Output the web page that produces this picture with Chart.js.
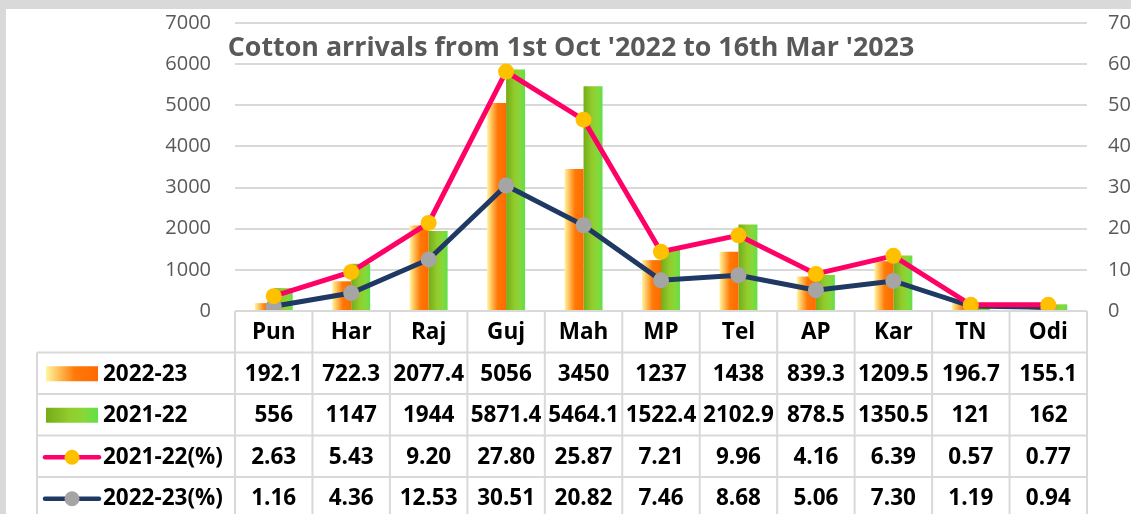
<!DOCTYPE html>
<html>
<head>
<meta charset="utf-8">
<script src="https://cdn.jsdelivr.net/npm/chart.js@4.4.1/dist/chart.umd.min.js"></script>
<style>
  html, body { margin: 0; padding: 0; overflow: hidden; background: #d9d9d9; width: 1131px; height: 514px; }
  #wrap { position: absolute; left: 6px; top: 9px; width: 1160px; height: 505px; background: #fff; }
</style>
</head>
<body>
<div id="wrap"><canvas id="grafico"></canvas></div>
<script>
// --- DADOS ---
const states = ['Pun', 'Har', 'Raj', 'Guj', 'Mah', 'MP', 'Tel', 'AP', 'Kar', 'TN', 'Odi'];
const arrivals2223 = [192.1, 722.3, 2077.4, 5056, 3450, 1237, 1438, 839.3, 1209.5, 196.7, 155.1];
const arrivals2122 = [556, 1147, 1944, 5871.4, 5464.1, 1522.4, 2102.9, 878.5, 1350.5, 121, 162];
// shares printed in the table
const share2122Text = ['2.63', '5.43', '9.20', '27.80', '25.87', '7.21', '9.96', '4.16', '6.39', '0.57', '0.77'];
const share2223Text = ['1.16', '4.36', '12.53', '30.51', '20.82', '7.46', '8.68', '5.06', '7.30', '1.19', '0.94'];
// line points as drawn on the right axis
const share2122Plot = [3.6, 9.5, 21.4, 58.2, 46.5, 14.4, 18.4, 9.0, 13.4, 1.5, 1.5];
const share2223Plot = [1.16, 4.36, 12.53, 30.51, 20.82, 7.46, 8.68, 5.06, 7.30, 1.19, 0.94];
const leftTicks = [0, 1000, 2000, 3000, 4000, 5000, 6000, 7000];
const rightTicks = [0, 10, 20, 30, 40, 50, 60, 70];

const FONT = '"Open Sans", sans-serif';
const BAR_PCT = 0.49;
const ROW_H = 41.5;

function orangeGrad(ctx, x0, x1) {
    const g = ctx.createLinearGradient(x0, 0, x1, 0);
    g.addColorStop(0, '#fff6a0');
    g.addColorStop(0.3, '#ffb24a');
    g.addColorStop(0.55, '#ff7a08');
    g.addColorStop(1, '#ff6a00');
    return g;
}
function greenGrad(ctx, x0, x1) {
    const g = ctx.createLinearGradient(x0, 0, x1, 0);
    g.addColorStop(0, '#74ac18');
    g.addColorStop(0.45, '#92cc2c');
    g.addColorStop(0.75, '#86d83a');
    g.addColorStop(1, '#5fe04a');
    return g;
}

// gradiente horizontal por barra
function barFill(which) {
    return (c) => {
        const chart = c.chart;
        const area = chart.chartArea;
        if (!area || c.dataIndex === undefined) return which === 0 ? '#ff7a08' : '#86c82a';
        const xc = chart.scales.x.getPixelForValue(c.dataIndex);
        const w = area.width / states.length * BAR_PCT / 2;
        const x0 = which === 0 ? xc - w : xc;
        return which === 0 ? orangeGrad(chart.ctx, x0, x0 + w) : greenGrad(chart.ctx, x0, x0 + w);
    };
}

const titlePlugin = {
    id: 'titulo',
    beforeDatasetsDraw(chart) {
        const { ctx, chartArea } = chart;
        ctx.save();
        ctx.font = 'bold 26.8px ' + FONT;
        ctx.fillStyle = '#595959';
        ctx.textAlign = 'center';
        ctx.textBaseline = 'middle';
        ctx.fillText("Cotton arrivals from 1st Oct '2022 to 16th Mar '2023", 565, chartArea.top + 25);
        ctx.restore();
    }
};

const tablePlugin = {
    id: 'tabela',
    afterDraw(chart) {
        const { ctx, chartArea, scales } = chart;
        const n = states.length;
        const cw = chartArea.width / n;
        const top = chartArea.bottom;
        const legLeft = 31;
        const L = chartArea.left, R = chartArea.right;
        const rows = [
            { label: '2022-23', vals: arrivals2223.map(String), key: 'orange' },
            { label: '2021-22', vals: arrivals2122.map(String), key: 'green' },
            { label: '2021-22(%)', vals: share2122Text, key: 'pink' },
            { label: '2022-23(%)', vals: share2223Text, key: 'navy' }
        ];
        ctx.save();
        ctx.strokeStyle = '#d9d9d9';
        ctx.lineWidth = 2;
        ctx.beginPath();
        // header row
        ctx.moveTo(L, top); ctx.lineTo(R, top);
        for (let i = 0; i <= n; i++) {
            const x = L + i * cw;
            ctx.moveTo(x, top); ctx.lineTo(x, top + ROW_H * 5);
        }
        for (let r = 1; r <= 5; r++) {
            const y = top + r * ROW_H;
            ctx.moveTo(legLeft, y); ctx.lineTo(R, y);
        }
        ctx.moveTo(legLeft, top + ROW_H); ctx.lineTo(legLeft, top + ROW_H * 5);
        ctx.stroke();

        ctx.fillStyle = '#000';
        ctx.font = 'bold 22.5px ' + FONT;
        ctx.textAlign = 'center';
        ctx.textBaseline = 'middle';
        states.forEach((s, i) => {
            ctx.fillText(s, scales.x.getPixelForValue(i), top + ROW_H / 2 + 1);
        });
        rows.forEach((row, r) => {
            const yc = top + ROW_H * (r + 1) + ROW_H / 2 + 1;
            ctx.textAlign = 'center';
            ctx.fillStyle = '#000';
            row.vals.forEach((v, i) => ctx.fillText(v, scales.x.getPixelForValue(i), yc));
            // chave da legenda
            if (row.key === 'orange' || row.key === 'green') {
                ctx.fillStyle = row.key === 'orange' ? orangeGrad(ctx, 40, 92) : greenGrad(ctx, 40, 92);
                ctx.fillRect(40, yc - 8, 52, 15);
            } else {
                ctx.strokeStyle = row.key === 'pink' ? '#ff0066' : '#1f3864';
                ctx.lineWidth = 4.5;
                ctx.lineCap = 'round';
                ctx.beginPath();
                ctx.moveTo(39, yc); ctx.lineTo(93, yc);
                ctx.stroke();
                ctx.fillStyle = row.key === 'pink' ? '#ffc000' : '#a5a5a5';
                ctx.beginPath();
                ctx.arc(66, yc, 7.5, 0, Math.PI * 2);
                ctx.fill();
            }
            ctx.fillStyle = '#000';
            ctx.textAlign = 'left';
            ctx.fillText(row.label, 97, yc);
        });
        ctx.restore();
    }
};

function fitAxis(width) {
    return (s) => {
        s.width = width;
        s.paddingTop = 0;
        s.paddingBottom = 0;
    };
}

const ctx = document.getElementById('grafico').getContext('2d');
new Chart(ctx, {
    data: {
        labels: states,
        datasets: [
            { type: 'line', label: '2021-22(%)', data: share2122Plot, yAxisID: 'y1', borderColor: '#ff0066', borderWidth: 5,
              pointBackgroundColor: '#ffc000', pointBorderWidth: 0, pointRadius: 8, tension: 0, order: 1 },
            { type: 'line', label: '2022-23(%)', data: share2223Plot, yAxisID: 'y1', borderColor: '#1f3864', borderWidth: 5,
              pointBackgroundColor: '#a5a5a5', pointBorderWidth: 0, pointRadius: 8, tension: 0, order: 2 },
            { type: 'bar', label: '2022-23', data: arrivals2223, yAxisID: 'y', backgroundColor: barFill(0),
              categoryPercentage: BAR_PCT, barPercentage: 1, order: 3 },
            { type: 'bar', label: '2021-22', data: arrivals2122, yAxisID: 'y', backgroundColor: barFill(1),
              categoryPercentage: BAR_PCT, barPercentage: 1, order: 4 }
        ]
    },
    options: {
        responsive: true,
        maintainAspectRatio: false,
        animation: false,
        layout: { padding: { left: 0, right: 0, top: 14, bottom: 203 } },
        plugins: { legend: { display: false }, tooltip: { enabled: false }, title: { display: false } },
        scales: {
            x: { display: false },
            y: {
                position: 'left', min: 0, max: 7000,
                afterBuildTicks: (s) => { s.ticks = leftTicks.map(v => ({ value: v })); },
                afterFit: fitAxis(229),
                ticks: { color: '#595959', font: { family: FONT, size: 20 }, padding: 24, callback: (v) => String(v) },
                grid: { color: '#d9d9d9', lineWidth: 2, drawTicks: false },
                border: { display: false }
            },
            y1: {
                position: 'right', min: 0, max: 70,
                afterBuildTicks: (s) => { s.ticks = rightTicks.map(v => ({ value: v })); },
                afterFit: fitAxis(79),
                ticks: { color: '#595959', font: { family: FONT, size: 20 }, padding: 21, callback: (v) => String(v) },
                grid: { display: false, drawTicks: false },
                border: { display: false }
            }
        }
    },
    plugins: [titlePlugin, tablePlugin]
});
</script>
</body>
</html>
